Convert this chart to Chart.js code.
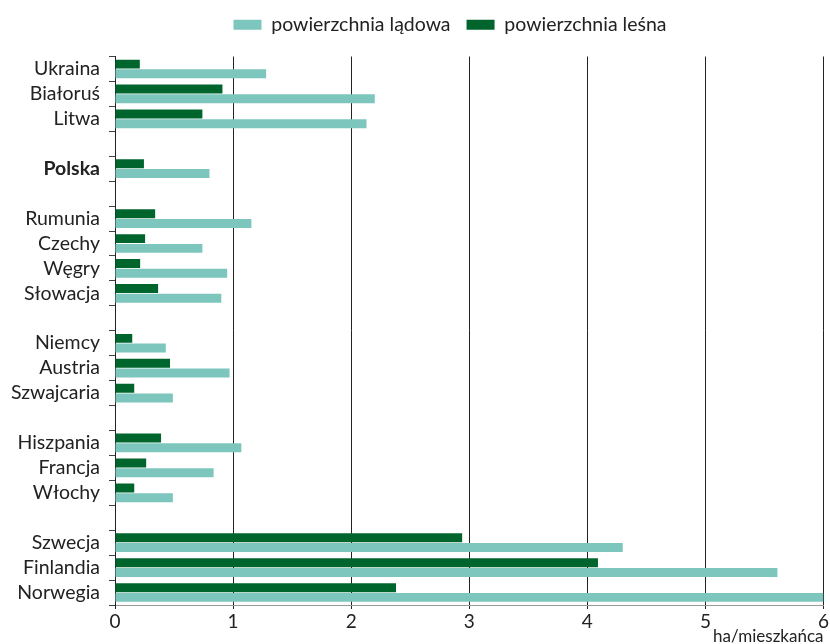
<!DOCTYPE html>
<html>
<head>
<meta charset="utf-8">
<script src="https://cdn.jsdelivr.net/npm/chart.js@4/dist/chart.umd.min.js"></script>
<style>
html,body{margin:0;padding:0;background:#fff;}
#wrap{width:830px;height:644px;position:relative;}
</style>
</head>
<body>
<div id="wrap"><canvas id="c"></canvas></div>
<script>
const categories = ['Ukraina','Białoruś','Litwa','','Polska','','Rumunia','Czechy','Węgry','Słowacja','','Niemcy','Austria','Szwajcaria','','Hiszpania','Francja','Włochy','','Szwecja','Finlandia','Norwegia'];
const landArea = [1.28,2.20,2.13,null,0.80,null,1.155,0.74,0.95,0.90,null,0.43,0.97,0.49,null,1.07,0.835,0.49,null,4.30,5.61,6.0];
const forestArea = [0.21,0.91,0.74,null,0.245,null,0.34,0.255,0.213,0.365,null,0.146,0.466,0.163,null,0.39,0.264,0.163,null,2.94,4.09,2.38];
const xTicks = [0,1,2,3,4,5,6];
const seriesNames = ['powierzchnia lądowa','powierzchnia leśna'];
const unitLabel = 'ha/mieszkańca';
const boldCategory = 'Polska';

const FONT = 'Lato, "Open Sans", sans-serif';
Chart.defaults.font.family = FONT;
Chart.defaults.color = '#222';

const legendShift = {
  id: 'legendShift',
  afterLayout(chart) {
    const l = chart.legend;
    if (!l) return;
    l.left += 38; l.right += 38;
    l.top -= 12; l.bottom -= 12;
  }
};

new Chart(document.getElementById('c'), {
  type: 'bar',
  data: {
    labels: categories,
    datasets: [
      { label: seriesNames[1], data: forestArea, backgroundColor: '#00652d', categoryPercentage: 0.78, barPercentage: 0.92 },
      { label: seriesNames[0], data: landArea, backgroundColor: '#7cc6be', categoryPercentage: 0.78, barPercentage: 0.92 }
    ]
  },
  plugins: [legendShift],
  options: {
    indexAxis: 'y',
    responsive: true,
    maintainAspectRatio: false,
    animation: false,
    layout: { padding: { left: 0, right: 6, top: 11, bottom: 0 } },
    plugins: {
      legend: {
        reverse: true,
        position: 'top',
        labels: { boxWidth: 28, boxHeight: 10, font: { size: 19.5 }, color: '#222', padding: 16 }
      },
      tooltip: { enabled: false }
    },
    scales: {
      x: {
        min: 0, max: 6,
        afterBuildTicks: s => { s.ticks = xTicks.map(v => ({ value: v })); },
        afterFit: s => { s.height = 39; },
        grid: { color: '#222', lineWidth: 1, tickLength: 4, drawTicks: true },
        border: { display: true, color: '#999' },
        ticks: { font: { size: 19 }, color: '#222', padding: 1 },
        title: { display: true, text: unitLabel, align: 'end', font: { size: 17 }, color: '#222', padding: { top: 0, bottom: -3 } }
      },
      y: {
        afterFit: s => { s.width = 115; },
        grid: { offset: true, drawOnChartArea: false, tickLength: 6, color: '#444' },
        border: { display: true, color: '#222', width: 1 },
        ticks: {
          autoSkip: false,
          padding: 9,
          color: '#222',
          font: ctx => ({ size: 19.5, weight: categories[ctx.index] === boldCategory ? 'bold' : 'normal' })
        }
      }
    }
  }
});
</script>
</body>
</html>
